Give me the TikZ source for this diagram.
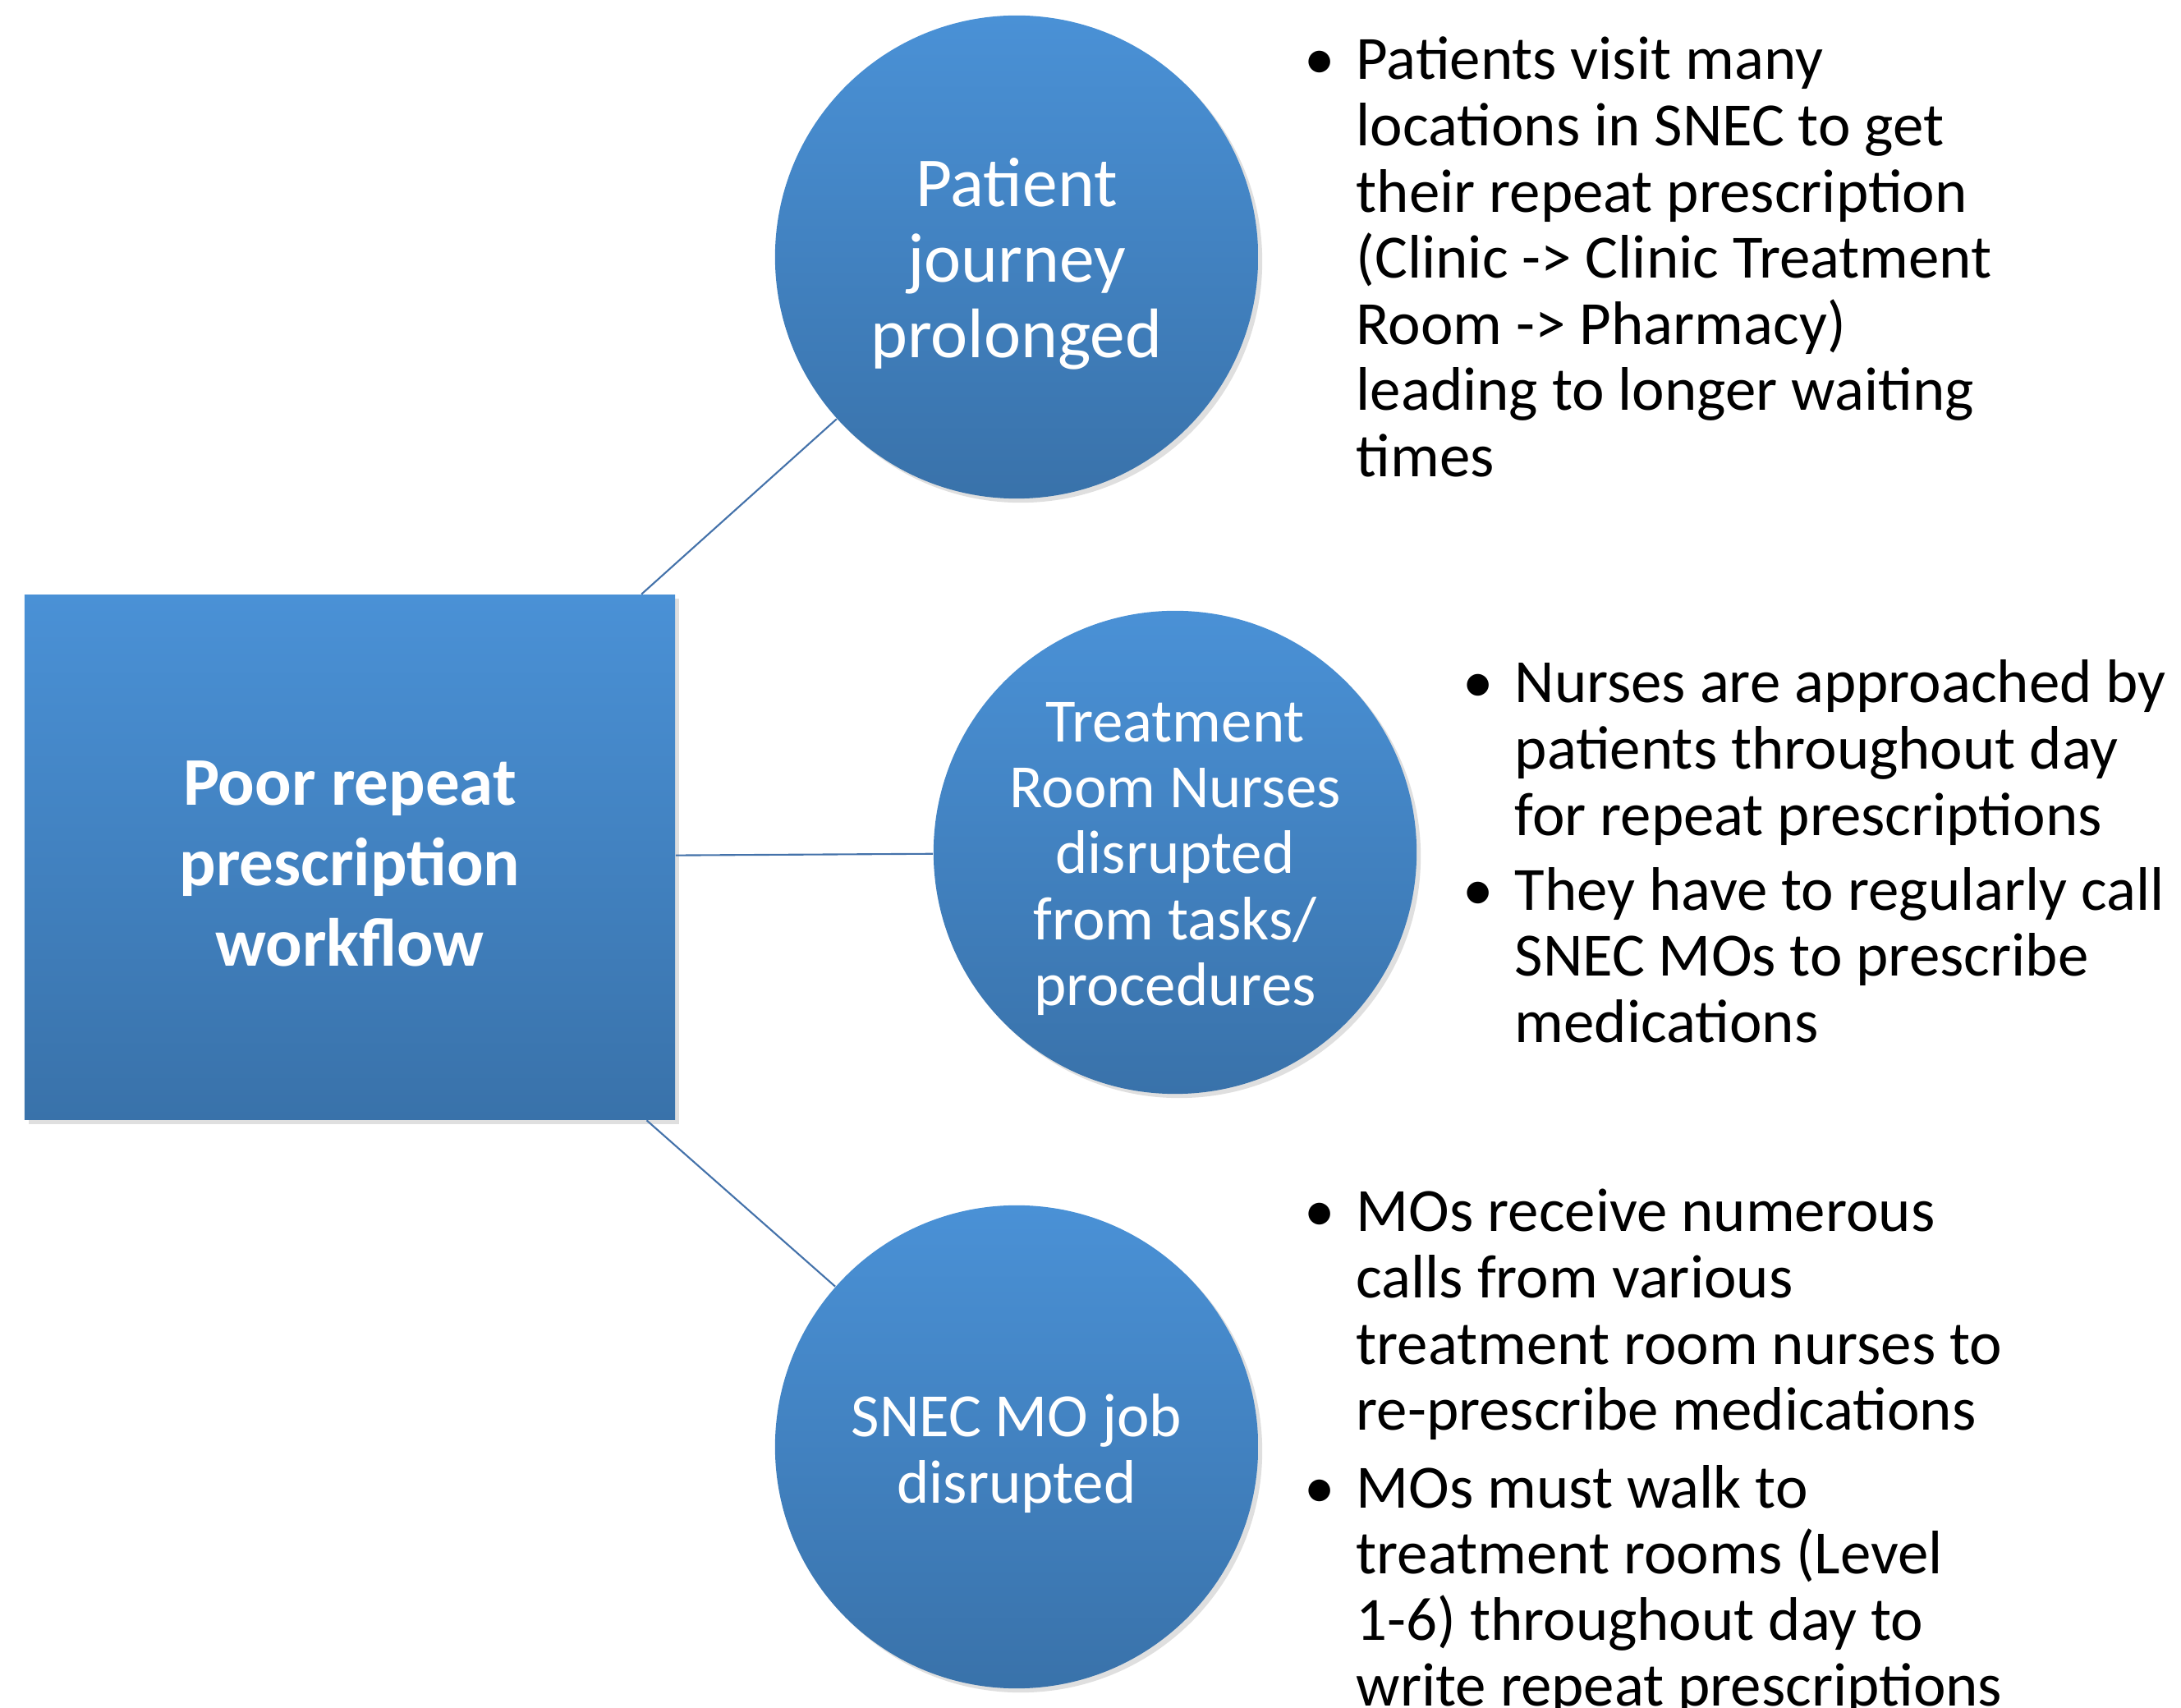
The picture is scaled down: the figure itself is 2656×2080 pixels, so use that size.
\documentclass[tikz,border=0pt]{standalone}
\usepackage{fontspec}
\setmainfont{Carlito}
\usepackage{tikz}
\usetikzlibrary{positioning, shadows}

\definecolor{bluetop}{RGB}{74,145,214}
\definecolor{bluebot}{RGB}{57,114,170}
\definecolor{linkblue}{RGB}{68,114,170}

\tikzset{
    problem/.style={rectangle, top color=bluetop, bottom color=bluebot, draw=none,
        minimum width=7.92cm, minimum height=6.39cm, inner sep=0pt,
        drop shadow={opacity=0.25, shadow xshift=0.05cm, shadow yshift=-0.05cm}},
    effect/.style={circle, top color=bluetop, bottom color=bluebot, draw=none,
        minimum size=5.88cm, inner sep=0pt,
        drop shadow={opacity=0.25, shadow xshift=0.05cm, shadow yshift=-0.05cm}},
    % text sits a little below the centre of its shape
    inside/.style={text=white, align=center, inner sep=0pt, yshift=-0.08cm,
        font=\fontsize{21.3}{22.8}\selectfont},
    link/.style={draw=linkblue, line width=0.6pt},
    notes/.style={anchor=base west, inner sep=0pt, font=\fontsize{21.3}{22.9}\selectfont},
}
\newcommand{\bul}{\llap{\textbullet\hspace{7.5pt}}}

\begin{document}
\begin{tikzpicture}[x=0.01cm, y=-0.01cm]
    \path[use as bounding box, fill=white] (0,0) rectangle (2656,2080);

    % Central problem
    \node[problem] (poor) at (426,1044) {};
    \node[inside, font=\fontsize{23.6}{27.9}\selectfont\bfseries] (poortext) at (poor)
        {Poor repeat\\prescription\\workflow};

    % Effects
    \node[effect] (journey) at (1238,313) {};
    \node[effect] (nurses) at (1431,1038) {};
    \node[effect] (mojob) at (1238,1762) {};

    \node[inside, font=\fontsize{24.3}{26.2}\selectfont] (journeytext) at (journey)
        {Patient\\journey\\prolonged};
    \node[inside] (nursestext) at (nurses)
        {Treatment\\Room Nurses\\disrupted\\from tasks/\\procedures};
    \node[inside] (mojobtext) at (mojob) {SNEC MO job\\disrupted};

    % Links
    \foreach \c in {journey, nurses, mojob}
        \draw[link] (poor) -- (\c);

    % Notes beside each effect
    \node[notes] (journeynotes) at (1651,97) {\begin{tabular}[t]{@{}l@{}}
        \bul Patients visit many\\
        locations in SNEC to get\\
        their repeat prescription\\
        (Clinic -> Clinic Treatment\\
        Room -> Pharmacy)\\
        leading to longer waiting\\
        times
    \end{tabular}};

    \node[notes] (nursenotes) at (1844,856) {\begin{tabular}[t]{@{}l@{}}
        \bul Nurses are approached by\\
        patients throughout day\\
        for repeat prescriptions\\[3pt]
        \bul They have to regularly call\\
        SNEC MOs to prescribe\\
        medications
    \end{tabular}};

    \node[notes] (monotes) at (1651,1500) {\begin{tabular}[t]{@{}l@{}}
        \bul MOs receive numerous\\
        calls from various\\
        treatment room nurses to\\
        re-prescribe medications\\[4pt]
        \bul MOs must walk to\\
        treatment rooms (Level\\
        1-6) throughout day to\\
        write repeat prescriptions
    \end{tabular}};
\end{tikzpicture}
\end{document}
